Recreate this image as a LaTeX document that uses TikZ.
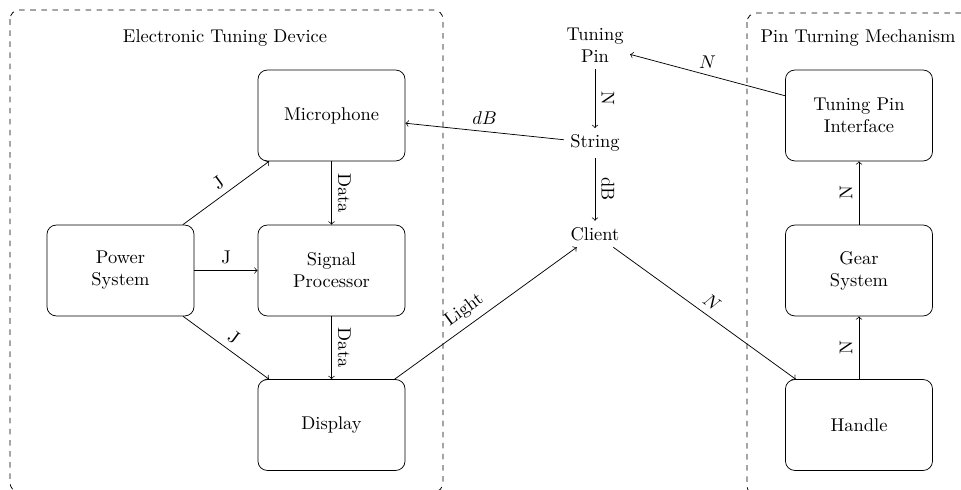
\documentclass[tikz,border=0pt]{standalone}
\begin{document}
\begin{tikzpicture}[x=0.019048cm, y=-0.019048cm,
  blk/.style={draw, rounded corners=5pt, minimum width=2.8cm, minimum height=1.73cm, align=center},
  plain/.style={align=center},
  grp/.style={draw, dashed, rounded corners=5pt},
  lbl/.style={midway, above, sloped},
  lblu/.style={midway, above},
  conn/.style={->}]
\useasboundingbox (0,0) rectangle (961,490);
\clip (0,0) rectangle (961,490);
\draw[grp] (10,10) rectangle (443,492);
\draw[grp] (747,13) rectangle (1180,495);
\node (t1) at (225,38) {Electronic Tuning Device};
\node (t2) at (858,38) {Pin Turning Mechanism};
% left group
\node[blk] (mic) at (331.5,115.5) {Microphone};
\node[blk] (sp) at (331.5,270.5) {Signal\\Processor};
\node[blk] (disp) at (331.5,425) {Display};
\node[blk] (pow) at (120.5,270.5) {Power\\System};
% middle
\node[plain] (pin) at (595,45) {Tuning\\Pin};
\node[plain] (str) at (595,143) {String};
\node[plain] (cli) at (595,234) {Client};
% right group
\node[blk] (tpi) at (859,115.5) {Tuning Pin\\Interface};
\node[blk] (gear) at (859,270.5) {Gear\\System};
\node[blk] (hand) at (859,425) {Handle};
% connectors
\draw[conn] (pow) -- (mic) node[lbl] {J};
\draw[conn] (pow) -- (sp) node[lblu] {J};
\draw[conn] (pow) -- (disp) node[lbl] {J};
\draw[conn] (mic) -- (sp) node[lbl] {Data};
\draw[conn] (sp) -- (disp) node[lbl] {Data};
\draw[conn] (str) -- (mic) node[lblu] {$dB$};
\draw[conn] (pin) -- (str) node[lbl] {N};
\draw[conn] (str) -- (cli) node[lbl] {dB};
\draw[conn] (disp) -- (cli) node[lbl, pos=0.43] {Light};
\draw[conn] (cli) -- (hand) node[lbl] {$N$};
\draw[conn] (hand) -- (gear) node[lbl] {N};
\draw[conn] (gear) -- (tpi) node[lbl] {N};
\draw[conn] (tpi) -- (pin) node[lblu] {$N$};
\end{tikzpicture}
\end{document}
